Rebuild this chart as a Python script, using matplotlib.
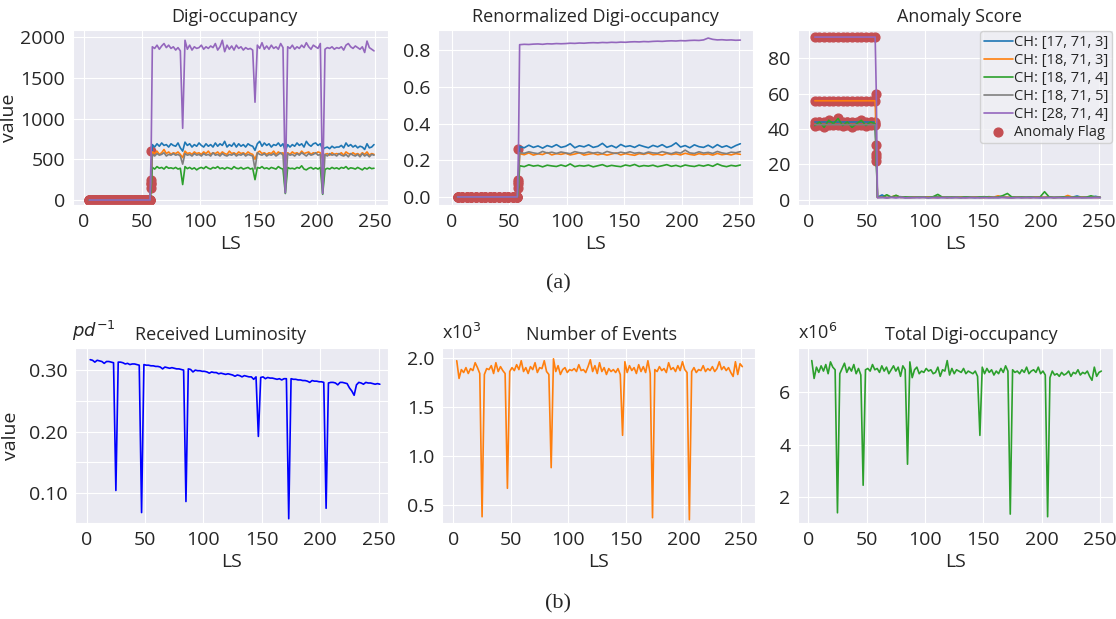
#!/usr/bin/env python3

import matplotlib
matplotlib.use("Agg")
import matplotlib.pyplot as plt
from matplotlib.ticker import FixedLocator
import seaborn as sns


#####
##### Data
#####

CHANNELS = ["CH: [17, 71, 3]", "CH: [18, 71, 3]", "CH: [18, 71, 4]",
            "CH: [18, 71, 5]", "CH: [28, 71, 4]"]
FLAG_LABEL = "Anomaly Flag"
FLAG_LAST_LS = 58

### top row: fine grid for digi-occupancy, coarse grid for the other two
LS_DIGI = list(range(5, 58, 2)) + [58] + list(range(59, 250, 2))
LS_COARSE = list(range(5, 58, 4)) + [58] + list(range(59, 252, 4))

DIGI_PRE = [0, 0, 0, 0, 0, 0, 0, 0, 0, 0, 0, 0, 0, 0,
            0, 0, 0, 0, 0, 0, 0, 0, 0, 0, 0, 0, 0]
DIGI_AT58 = [250, 210, 150, 200, 600]
DIGI_POST = [
    [680, 650, 690, 660, 700, 670, 680, 650, 690, 670,
     660, 700, 640, 600, 710, 670, 690, 650, 680, 660,
     700, 670, 650, 690, 660, 680, 650, 700, 660, 690,
     670, 720, 650, 680, 660, 700, 650, 690, 660, 680,
     650, 690, 670, 660, 610, 690, 720, 660, 700, 670,
     690, 650, 680, 670, 700, 660, 690, 600, 680, 650,
     680, 660, 700, 670, 690, 650, 720, 680, 660, 690,
     700, 670, 690, 620, 640, 650, 630, 660, 640, 650,
     650, 670, 640, 700, 660, 680, 650, 670, 640, 660,
     650, 620, 690, 640, 650, 680],
    [590, 570, 600, 560, 580, 620, 570, 590, 560, 580,
     570, 590, 560, 520, 600, 570, 580, 560, 590, 570,
     580, 560, 590, 570, 600, 560, 580, 570, 590, 560,
     590, 570, 560, 600, 570, 580, 560, 590, 570, 580,
     560, 590, 570, 560, 500, 580, 600, 570, 580, 560,
     580, 570, 600, 560, 590, 570, 580, 480, 580, 560,
     590, 570, 580, 560, 600, 570, 580, 590, 560, 580,
     570, 590, 580, 500, 560, 570, 550, 580, 560, 570,
     560, 580, 550, 590, 570, 560, 580, 560, 570, 550,
     580, 560, 590, 550, 570, 560],
    [400, 380, 410, 390, 400, 380, 410, 390, 395, 385,
     400, 380, 390, 190, 410, 385, 400, 380, 395, 370,
     390, 400, 385, 410, 390, 380, 400, 390, 410, 385,
     395, 380, 400, 390, 380, 410, 390, 385, 400, 380,
     390, 400, 380, 390, 250, 400, 390, 410, 385, 395,
     380, 400, 390, 380, 410, 390, 380, 80, 400, 385,
     390, 380, 400, 390, 420, 380, 370, 390, 400, 380,
     395, 380, 400, 70, 375, 390, 380, 400, 385, 395,
     380, 400, 390, 410, 380, 395, 390, 380, 400, 385,
     370, 395, 380, 400, 385, 390],
    [560, 540, 570, 550, 560, 580, 540, 560, 550, 570,
     550, 560, 540, 440, 570, 550, 560, 540, 570, 550,
     560, 540, 570, 550, 560, 540, 580, 550, 560, 540,
     570, 550, 540, 560, 550, 570, 540, 560, 550, 570,
     540, 560, 550, 540, 380, 580, 560, 550, 570, 540,
     560, 550, 570, 540, 560, 580, 550, 90, 570, 550,
     560, 540, 570, 550, 580, 560, 540, 570, 550, 560,
     580, 550, 560, 80, 560, 540, 570, 550, 560, 540,
     570, 550, 540, 560, 530, 570, 550, 540, 560, 530,
     570, 540, 560, 530, 560, 550],
    [1880, 1860, 1900, 1850, 1890, 1920, 1870, 1900, 1860, 1880,
     1840, 1870, 1830, 880, 1960, 1850, 1900, 1840, 1880, 1860,
     1870, 1900, 1850, 1880, 1860, 1890, 1870, 1920, 1840, 1880,
     1960, 1820, 1900, 1850, 1890, 1840, 1900, 1860, 1880, 1840,
     1870, 1850, 1860, 1840, 1200, 1900, 1860, 1930, 1850, 1890,
     1850, 1900, 1860, 1880, 1850, 1920, 1870, 90, 1880, 1860,
     1900, 1850, 1880, 1860, 1900, 1870, 1930, 1880, 1850, 1900,
     1880, 1860, 1920, 80, 1850, 1870, 1860, 1880, 1850, 1870,
     1860, 1880, 1840, 1900, 1920, 1880, 1860, 1890, 1870, 1850,
     1880, 1810, 1950, 1870, 1850, 1830],
]

RENORM_PRE = [0, 0, 0, 0, 0, 0, 0, 0, 0, 0, 0, 0, 0, 0]
RENORM_AT58 = [0.09, 0.08, 0.05, 0.07, 0.26]
RENORM_POST = [
    [0.275, 0.268, 0.282, 0.270, 0.278, 0.266, 0.280, 0.272, 0.285, 0.270,
     0.276, 0.290, 0.268, 0.279, 0.273, 0.284, 0.270, 0.276, 0.292, 0.271,
     0.280, 0.268, 0.286, 0.274, 0.279, 0.270, 0.283, 0.275, 0.268, 0.281,
     0.273, 0.285, 0.270, 0.278, 0.295, 0.272, 0.280, 0.268, 0.284, 0.274,
     0.270, 0.282, 0.268, 0.285, 0.271, 0.279, 0.267, 0.280, 0.290],
    [0.236, 0.230, 0.240, 0.228, 0.235, 0.231, 0.242, 0.229, 0.236, 0.232,
     0.238, 0.229, 0.234, 0.241, 0.228, 0.233, 0.237, 0.230, 0.235, 0.228,
     0.234, 0.240, 0.229, 0.236, 0.231, 0.227, 0.236, 0.232, 0.239, 0.230,
     0.233, 0.228, 0.237, 0.231, 0.235, 0.229, 0.238, 0.232, 0.228, 0.236,
     0.231, 0.235, 0.228, 0.237, 0.230, 0.234, 0.229, 0.236, 0.232],
    [0.170, 0.165, 0.175, 0.168, 0.172, 0.164, 0.173, 0.169, 0.166, 0.174,
     0.167, 0.180, 0.165, 0.171, 0.168, 0.173, 0.164, 0.170, 0.176, 0.166,
     0.172, 0.168, 0.165, 0.174, 0.169, 0.177, 0.166, 0.171, 0.168, 0.173,
     0.165, 0.170, 0.176, 0.167, 0.172, 0.165, 0.174, 0.169, 0.166, 0.173,
     0.168, 0.175, 0.167, 0.180, 0.170, 0.165, 0.172, 0.168, 0.174],
    [0.242, 0.238, 0.246, 0.240, 0.236, 0.248, 0.239, 0.244, 0.237, 0.245,
     0.240, 0.236, 0.247, 0.241, 0.238, 0.245, 0.239, 0.243, 0.236, 0.248,
     0.241, 0.237, 0.244, 0.239, 0.246, 0.238, 0.242, 0.236, 0.245, 0.240,
     0.238, 0.247, 0.241, 0.236, 0.244, 0.239, 0.255, 0.240, 0.237, 0.246,
     0.239, 0.243, 0.237, 0.248, 0.240, 0.236, 0.244, 0.241, 0.247],
    [0.830, 0.832, 0.831, 0.833, 0.834, 0.832, 0.835, 0.834, 0.836, 0.835,
     0.836, 0.838, 0.837, 0.839, 0.838, 0.840, 0.841, 0.840, 0.842, 0.841,
     0.843, 0.842, 0.844, 0.843, 0.845, 0.846, 0.845, 0.847, 0.846, 0.848,
     0.849, 0.848, 0.850, 0.851, 0.850, 0.852, 0.851, 0.853, 0.854, 0.853,
     0.856, 0.866, 0.859, 0.856, 0.857, 0.855, 0.856, 0.854, 0.855],
]

SCORE_PRE = [
    [44, 44, 44, 44, 44, 44, 44, 44, 44, 44, 44, 44, 44, 44],
    [56, 56, 56, 56, 56, 56, 56, 56, 56, 56, 56, 56, 56, 56],
    [42, 44, 41, 45, 43, 46, 42, 44, 41, 43, 45, 42, 44, 43],
    [42.5, 42.5, 42.5, 42.5, 42.5, 42.5, 42.5, 42.5, 42.5, 42.5, 42.5, 42.5, 42.5, 42.5],
    [92, 92, 92, 92, 92, 92, 92, 92, 92, 92, 92, 92, 92, 92],
]
SCORE_AT58 = [26, 31, 22, 24, 60]
SCORE_POST = [
    [1.5, 2.8, 1.3, 1.6, 1.4, 1.8, 1.3, 1.5, 1.7, 1.4,
     1.6, 1.3, 1.5, 1.9, 1.4, 1.6, 1.3, 1.5, 1.4, 1.7,
     1.5, 1.3, 1.6, 1.4, 1.8, 1.5, 1.3, 1.6, 1.4, 1.5,
     1.7, 1.4, 1.5, 1.3, 1.6, 1.4, 1.5, 1.7, 1.3, 1.5,
     1.4, 1.6, 1.5, 2.2, 1.4, 1.5, 1.6, 2.0, 1.4],
    [1.4, 1.6, 1.3, 1.7, 2.4, 1.4, 1.5, 1.3, 1.6, 1.4,
     1.5, 1.7, 1.3, 1.4, 1.6, 1.3, 1.5, 1.4, 1.6, 1.3,
     1.5, 1.7, 1.4, 1.3, 1.6, 1.5, 2.3, 1.4, 1.5, 1.3,
     1.6, 1.4, 1.5, 1.3, 1.7, 1.5, 1.4, 1.6, 1.3, 1.5,
     1.4, 2.5, 1.5, 1.3, 1.6, 1.4, 1.5, 1.3, 1.4],
    [1.6, 1.4, 2.9, 1.5, 2.6, 1.4, 1.7, 1.5, 1.4, 1.6,
     1.5, 1.4, 1.8, 3.1, 1.5, 1.4, 1.6, 1.5, 1.4, 1.7,
     1.5, 1.4, 1.6, 1.8, 1.5, 1.4, 1.6, 2.4, 3.6, 1.5,
     1.4, 1.6, 1.5, 1.7, 1.4, 1.5, 4.6, 1.6, 1.4, 1.5,
     1.7, 1.4, 1.5, 1.6, 1.4, 1.5, 2.3, 1.5, 1.4],
    [1.3, 1.5, 1.2, 1.4, 1.3, 1.6, 1.2, 1.4, 1.3, 1.5,
     1.3, 1.2, 1.4, 1.3, 1.5, 1.2, 1.4, 1.3, 1.2, 1.4,
     1.3, 1.5, 1.2, 1.4, 1.3, 1.2, 1.4, 1.5, 1.3, 1.2,
     1.4, 1.3, 1.2, 1.5, 1.3, 1.4, 1.2, 1.3, 1.4, 1.2,
     1.3, 1.5, 1.2, 1.4, 1.3, 1.2, 1.4, 1.6, 1.3],
    [1.2, 1.3, 1.1, 1.4, 1.2, 1.3, 1.2, 1.1, 1.3, 1.2,
     1.4, 1.2, 1.3, 1.1, 1.2, 1.3, 1.2, 1.4, 1.2, 1.1,
     1.3, 1.2, 1.2, 1.3, 1.1, 1.4, 1.2, 1.3, 1.2, 1.1,
     1.3, 1.2, 1.4, 1.2, 1.3, 1.1, 1.2, 1.3, 1.2, 1.4,
     1.2, 1.1, 1.3, 1.2, 1.2, 1.3, 1.1, 1.2, 1.3],
]

### bottom row
LS_BOT = list(range(3, 252, 2))

LUMI = [0.317, 0.316, 0.313, 0.316, 0.315, 0.314, 0.311, 0.314, 0.314, 0.313,
        0.312, 0.104, 0.313, 0.313, 0.312, 0.310, 0.311, 0.309, 0.310, 0.310,
        0.309, 0.308, 0.068, 0.309, 0.308, 0.308, 0.307, 0.307, 0.306, 0.306,
        0.305, 0.302, 0.305, 0.304, 0.303, 0.304, 0.303, 0.302, 0.302, 0.301,
        0.300, 0.086, 0.302, 0.301, 0.297, 0.300, 0.299, 0.299, 0.298, 0.298,
        0.297, 0.295, 0.297, 0.296, 0.296, 0.294, 0.295, 0.294, 0.293, 0.294,
        0.293, 0.292, 0.290, 0.292, 0.291, 0.289, 0.291, 0.290, 0.289, 0.289,
        0.285, 0.289, 0.192, 0.288, 0.289, 0.286, 0.288, 0.287, 0.287, 0.286,
        0.285, 0.286, 0.284, 0.286, 0.286, 0.058, 0.286, 0.285, 0.285, 0.284,
        0.284, 0.283, 0.283, 0.282, 0.280, 0.283, 0.282, 0.282, 0.281, 0.281,
        0.280, 0.075, 0.279, 0.280, 0.280, 0.279, 0.276, 0.280, 0.280, 0.279,
        0.278, 0.271, 0.266, 0.259, 0.276, 0.280, 0.279, 0.277, 0.280, 0.279,
        0.279, 0.278, 0.277, 0.278, 0.277]

EVENTS_K = [1.97, 1.79, 1.88, 1.85, 1.90, 1.84, 1.89, 1.87, 1.95, 1.90,
            1.84, 0.38, 1.83, 1.89, 1.88, 1.92, 1.84, 1.95, 1.86, 1.91,
            1.87, 1.84, 0.67, 1.86, 1.90, 1.87, 1.93, 1.88, 1.97, 1.86,
            1.90, 1.84, 1.91, 1.88, 1.95, 1.85, 1.90, 1.89, 1.97, 1.86,
            1.83, 0.88, 1.99, 1.86, 1.92, 1.83, 1.88, 1.90, 1.85, 1.88,
            1.87, 1.89, 1.86, 1.93, 1.87, 1.88, 1.85, 1.91, 1.98, 1.86,
            1.92, 1.84, 1.95, 1.86, 1.90, 1.83, 1.89, 1.86, 1.88, 1.85,
            1.89, 1.83, 1.21, 1.96, 1.85, 1.92, 1.87, 1.90, 1.84, 1.93,
            1.86, 1.91, 1.85, 1.97, 1.84, 0.37, 1.88, 1.86, 1.91, 1.87,
            1.89, 1.85, 1.95, 1.88, 1.90, 1.86, 1.92, 1.87, 1.96, 1.88,
            1.85, 0.35, 1.86, 1.90, 1.85, 1.88, 1.87, 1.92, 1.86, 1.89,
            1.87, 1.91, 1.86, 1.89, 1.96, 1.88, 1.91, 1.87, 1.90, 1.85,
            1.81, 1.96, 1.83, 1.94, 1.91]

TOTAL_DIGI_M = [7.20, 6.52, 6.95, 6.75, 7.00, 6.80, 7.05, 6.70, 7.15, 6.95,
                6.85, 1.40, 6.70, 6.90, 7.10, 6.75, 6.95, 6.80, 7.05, 6.70,
                6.90, 6.65, 2.45, 6.85, 6.90, 6.80, 7.05, 6.85, 6.90, 6.75,
                7.00, 6.80, 6.95, 6.70, 6.85, 7.00, 6.80, 6.95, 6.60, 7.00,
                6.85, 3.25, 7.15, 6.55, 6.85, 6.95, 6.70, 6.80, 6.75, 6.90,
                6.80, 6.85, 6.70, 6.75, 6.95, 6.60, 6.85, 6.80, 7.20, 6.65,
                6.90, 6.70, 6.85, 6.80, 6.75, 6.90, 6.70, 6.80, 6.75, 6.70,
                6.80, 6.60, 4.35, 6.95, 6.70, 6.90, 6.75, 6.85, 6.65, 6.80,
                6.70, 6.90, 6.75, 7.00, 6.80, 1.35, 6.85, 6.75, 6.80, 6.70,
                6.85, 6.75, 6.95, 6.70, 6.80, 6.85, 6.75, 6.95, 6.70, 6.80,
                6.65, 1.25, 6.55, 6.80, 6.65, 6.70, 6.60, 6.75, 6.65, 6.70,
                6.80, 6.60, 6.75, 6.70, 6.85, 6.65, 6.75, 6.70, 6.80, 6.60,
                6.45, 6.95, 6.60, 6.75, 6.80]

LUMI_TICKS = [0.10, 0.15, 0.20, 0.25, 0.30]
LUMI_TICKLABELS = ["0.10", "", "0.20", "", "0.30"]


#####
##### Global vars
#####

W, H = 1116, 619
CH_COLORS = ["#1f77b4", "#ff7f0e", "#2ca02c", "#7f7f7f", "#9467bd"]
FLAG_COLOR = "#c44e52"
FONT = ["Open Sans", "DejaVu Sans"]

FONT_SIZE_TICK  = 14
FONT_SIZE_LABEL = 14
FONT_SIZE_TITLE = 13
FONT_SIZE_LEG   = 10.5


def px_rect(x0, y0, x1, y1):
    ### pixel box (top-left origin) -> figure fraction rect
    return [x0 / W, 1 - y1 / H, (x1 - x0) / W, (y1 - y0) / H]


def init():
    sns.set_style("darkgrid")
    plt.rcParams["font.family"] = FONT
    plt.rc('font', size=FONT_SIZE_TICK)
    plt.rc('axes', titlesize=FONT_SIZE_TITLE, labelsize=FONT_SIZE_LABEL)
    plt.rc('xtick', labelsize=FONT_SIZE_TICK)
    plt.rc('ytick', labelsize=FONT_SIZE_TICK)


def commonFigFormat(ax, xlim, ylim, title, title_x=0.5):
    ax.set_xlim(*xlim)
    ax.set_ylim(*ylim)
    ax.set_xticks([0, 50, 100, 150, 200, 250])
    ax.set_xlabel("LS", labelpad=3)
    ax.set_title(title, pad=6, x=title_x)
    ax.tick_params(axis='both', pad=2)


def plotChannels(ax, ls, pre, at58, post, flag_size=40):
    for i in range(len(CHANNELS)):
        pre_i = pre[i] if isinstance(pre[0], list) else pre
        ys = pre_i + [at58[i]] + post[i]
        fx = [x for x in ls if x <= FLAG_LAST_LS]
        fy = ys[:len(fx)]
        ax.scatter(fx, fy, s=flag_size, color=FLAG_COLOR, zorder=1,
                   label=FLAG_LABEL if i == 0 else None)
        ax.plot(ls, ys, color=CH_COLORS[i], lw=1.2, label=CHANNELS[i], zorder=2)


#####
##### Figure
#####

init()
fig = plt.figure(figsize=(W / 100, H / 100), dpi=100)

### (a) top row
ax1 = fig.add_axes(px_rect(73, 30, 388, 205))
plotChannels(ax1, LS_DIGI, DIGI_PRE, DIGI_AT58, DIGI_POST)
commonFigFormat(ax1, (-9, 261), (-61, 2086), "Digi-occupancy", 0.513)
ax1.set_yticks([0, 500, 1000, 1500, 2000])
ax1.set_ylabel("value", labelpad=2)

ax2 = fig.add_axes(px_rect(438, 30, 753, 205))
plotChannels(ax2, LS_COARSE, RENORM_PRE, RENORM_AT58, RENORM_POST)
commonFigFormat(ax2, (-12, 262), (-0.044, 0.91), "Renormalized Digi-occupancy")
ax2.set_yticks([0.0, 0.2, 0.4, 0.6, 0.8])

ax3 = fig.add_axes(px_rect(798, 30, 1113, 205))
plotChannels(ax3, LS_COARSE, SCORE_PRE, SCORE_AT58, SCORE_POST)
commonFigFormat(ax3, (-9.5, 262), (-2.9, 96), "Anomaly Score", 0.513)
ax3.set_yticks([0, 20, 40, 60, 80])
handles, labels = ax3.get_legend_handles_labels()
order = [labels.index(c) for c in CHANNELS] + [labels.index(FLAG_LABEL)]
ax3.legend([handles[k] for k in order], [labels[k] for k in order],
           loc="upper right", fontsize=FONT_SIZE_LEG, borderaxespad=0.1,
           borderpad=0.25, labelspacing=0.2, handlelength=2.0,
           handletextpad=0.05, framealpha=0.8, facecolor="#f0f0f4",
           edgecolor="#cccccc")

### (b) bottom row
ax4 = fig.add_axes(px_rect(75, 348, 388, 523))
ax4.plot(LS_BOT, LUMI, color="blue", lw=1.2)
commonFigFormat(ax4, (-10, 258), (0.051, 0.336), "Received Luminosity", 0.465)
ax4.yaxis.set_major_locator(FixedLocator(LUMI_TICKS))
ax4.set_yticklabels(LUMI_TICKLABELS)
ax4.set_ylabel("value", labelpad=6)
ax4.text(-0.01, 1.03, r"$pd^{-1}$", transform=ax4.transAxes, ha="left",
         va="bottom", fontsize=13, family=["DejaVu Sans"])

ax5 = fig.add_axes(px_rect(442, 348, 755, 523))
ax5.plot(LS_BOT, EVENTS_K, color=CH_COLORS[1], lw=1.2)
commonFigFormat(ax5, (-9.8, 262), (0.316, 2.10), "Number of Events", 0.508)
ax5.set_yticks([0.5, 1.0, 1.5, 2.0])
ax5.text(0.0, 1.03, r"x10$^3$", transform=ax5.transAxes, ha="left",
         va="bottom", fontsize=13)

ax6 = fig.add_axes(px_rect(798, 348, 1113, 523))
ax6.plot(LS_BOT, TOTAL_DIGI_M, color=CH_COLORS[2], lw=1.2)
commonFigFormat(ax6, (-8.8, 261), (1.01, 7.68), "Total Digi-occupancy", 0.549)
ax6.set_yticks([2, 4, 6])
ax6.text(0.0, 1.03, r"x10$^6$", transform=ax6.transAxes, ha="left",
         va="bottom", fontsize=13)

### captions
fig.text(558 / W, 1 - 284 / H, "(a)", ha="center", va="center",
         family=["Liberation Serif"], fontsize=16)
fig.text(558 / W, 1 - 604 / H, "(b)", ha="center", va="center",
         family=["Liberation Serif"], fontsize=16)

plt.savefig("out.png", dpi=100)
plt.close()
print("Created out.png")
